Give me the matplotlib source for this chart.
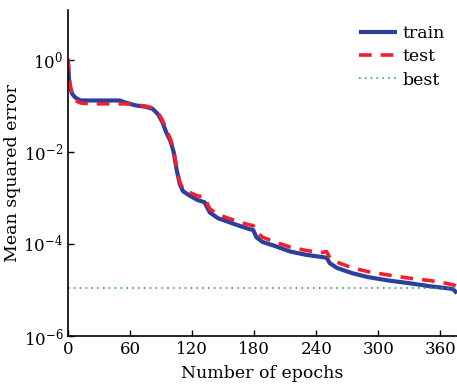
import math
import matplotlib
matplotlib.use("Agg")
import matplotlib.pyplot as plt

epochs = [0, 1, 2, 4, 7, 12, 20, 50, 55, 65, 75, 82, 87, 91, 95, 99, 102, 105, 108, 111,
          118, 125, 132, 134, 137, 145, 155, 165, 175, 179, 182, 188, 200, 215, 230, 245,
          250, 253, 260, 275, 290, 310, 330, 350, 365, 372, 376]
train = [0.8, 0.35, 0.25, 0.18, 0.15, 0.13, 0.13, 0.13, 0.118, 0.102, 0.095, 0.085, 0.065,
         0.045, 0.026, 0.017, 0.01, 0.004, 0.002, 0.0014, 0.0011, 0.0009, 0.0008, 0.00065,
         0.00048, 0.00036, 0.0003, 0.00025, 0.00021, 0.0002, 0.00014, 0.00011, 0.00009,
         0.000068, 0.000058, 0.000052, 0.00005, 0.000038, 0.00003, 0.000023, 0.000019,
         0.000016, 0.000014, 0.000012, 0.000011, 0.0000105, 0.0000085]
test = [1.05, 0.45, 0.28, 0.17, 0.13, 0.115, 0.11, 0.11, 0.11, 0.105, 0.098, 0.09, 0.07,
        0.05, 0.03, 0.019, 0.011, 0.0045, 0.0022, 0.0016, 0.0013, 0.0011, 0.00105, 0.0008,
        0.00058, 0.00043, 0.00036, 0.0003, 0.00026, 0.00025, 0.00018, 0.00014, 0.00011,
        0.000085, 0.000072, 0.000065, 0.000068, 0.00005, 0.00004, 0.00003, 0.000025,
        0.000021, 0.000018, 0.000016, 0.000014, 0.000013, 0.000012]
best_value = 1.1e-5
xticks = [0, 60, 120, 180, 240, 300, 360]
yticks = [1e-6, 1e-4, 1e-2, 1e0]

plt.rcParams['font.family'] = ['DejaVu Serif']
plt.rcParams['mathtext.fontset'] = 'dejavuserif'

fig = plt.figure(figsize=(4.57, 3.84), dpi=100)
ax = fig.add_axes([0.149, 0.125, 0.851, 0.849])

ax.plot(epochs, train, color='#2b3f9e', lw=3.0, solid_capstyle='butt', label='train')
ax.plot(epochs, test, color='#f0202e', lw=2.6, ls=(0, (3.5, 2.5)), label='test')
ax.axhline(best_value, color='#2aa860', lw=1.2, ls=(0, (1, 2.5)), label='best')

ax.set_yscale('log')
ax.set_xlim(0, 376)
ax.set_ylim(1e-6, 12)
ax.set_xticks(xticks)
ax.set_xticklabels([str(t) for t in xticks])
ax.set_yticks(yticks)
ax.set_yticklabels(['$10^{%d}$' % int(round(math.log10(v))) for v in yticks])
ax.minorticks_off()
ax.tick_params(direction='in', labelsize=12, length=4, width=1)
ax.spines['top'].set_visible(False)
ax.spines['right'].set_visible(False)
ax.spines['left'].set_linewidth(1.2)
ax.spines['bottom'].set_linewidth(1.2)

ax.set_xlabel('Number of epochs', fontsize=12.5, labelpad=5)
ax.set_ylabel('Mean squared error', fontsize=12.5, labelpad=2)

leg = ax.legend(loc='upper right', frameon=False, fontsize=12.5, handlelength=2.2,
                handletextpad=0.3, labelspacing=0.35, borderaxespad=0.3,
                bbox_to_anchor=(1.0, 0.99))

fig.savefig('out.png', dpi=100)
